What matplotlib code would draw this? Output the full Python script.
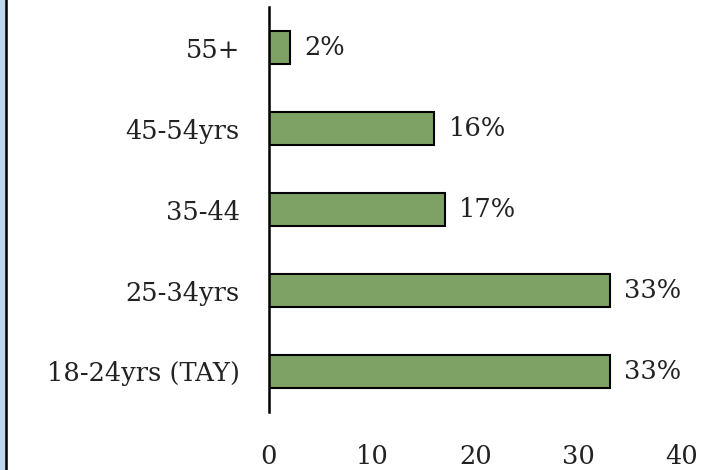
import matplotlib.pyplot as plt
from matplotlib.patches import Rectangle
from matplotlib.lines import Line2D

categories = ["18-24yrs (TAY)", "25-34yrs", "35-44", "45-54yrs", "55+"]
values = [33, 33, 17, 16, 2]
labels = ["33%", "33%", "17%", "16%", "2%"]
xticks = [0, 10, 20, 30, 40]

plt.rcParams['font.family'] = ['DejaVu Serif']

fig = plt.figure(figsize=(7.15, 4.70), dpi=100)
ax = fig.add_axes([269/715, 1 - 412/470, (682 - 269)/715, (412 - 7)/470])

pos = range(len(categories))
ax.barh(pos, values, height=0.41, color='#7EA265', edgecolor='black', linewidth=1.5)
for p, v, t in zip(pos, values, labels):
    ax.text(v + 1.4, p, t, va='center', ha='left', fontsize=18.5, color='#222222')

ax.set_xlim(0, 40)
ax.set_ylim(-0.5, 4.5)
ax.set_yticks(list(pos))
ax.set_yticklabels(categories, fontsize=18.5, color='#222222')
ax.set_xticks(xticks)
ax.set_xticklabels([str(x) for x in xticks], fontsize=18.5, color='#222222')
ax.tick_params(axis='both', length=0)
ax.tick_params(axis='x', pad=23)
ax.tick_params(axis='y', pad=21)
for s in ['top', 'right', 'bottom']:
    ax.spines[s].set_visible(False)
ax.spines['left'].set_linewidth(1.8)

# left frame edge
fig.patches.append(Rectangle((0, 0), 5/715, 1, transform=fig.transFigure, color='#BDD7EE'))
fig.lines.append(Line2D([6/715, 6/715], [0, 1], transform=fig.transFigure, color='black', linewidth=1.8))

fig.savefig("out.png", dpi=100)
